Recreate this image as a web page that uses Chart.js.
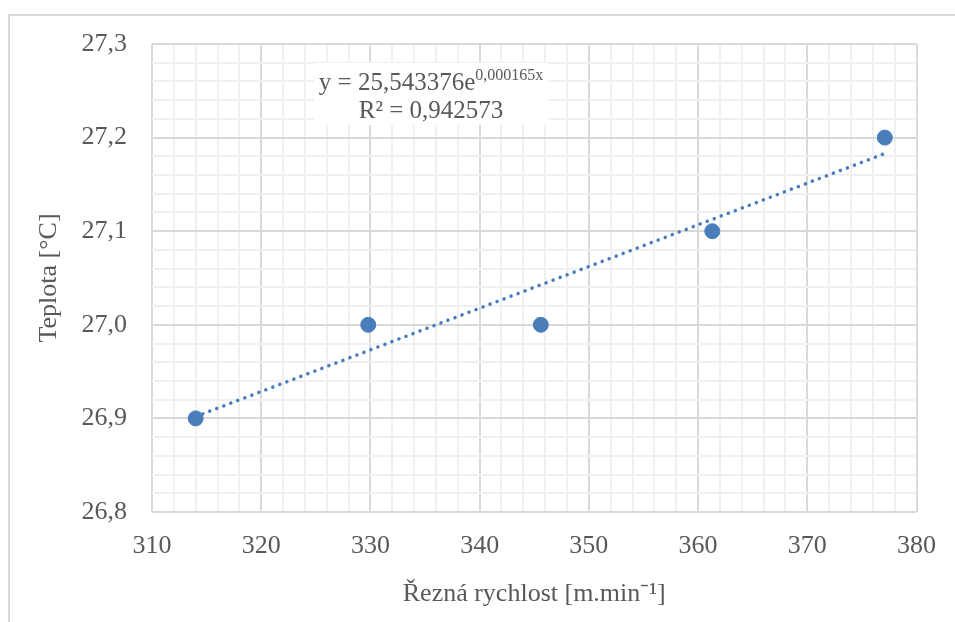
<!DOCTYPE html>
<html>
<head>
<meta charset="utf-8">
<script src="https://cdn.jsdelivr.net/npm/chart.js@4/dist/chart.umd.min.js"></script>
<style>
  html, body { margin: 0; padding: 0; background: #ffffff; }
  #wrap { width: 955px; height: 622px; position: relative; }
</style>
</head>
<body>
<div id="wrap"><canvas id="c" width="955" height="622"></canvas></div>
<script>
// ---- data ----
const speeds = [314.0, 329.8, 345.6, 361.3, 377.1];   // Řezná rychlost [m.min-1]
const temps  = [26.9, 27.0, 27.0, 27.1, 27.2];        // Teplota [°C]
const trendX = [314.0, 377.1];                         // trendline ends
const trendY = [26.902, 27.183];
const xTickMajors = [310, 320, 330, 340, 350, 360, 370, 380];
const yTickMajors = ['26,8', '26,9', '27,0', '27,1', '27,2', '27,3'];
const eqMain = 'y = 25,543376e';
const eqExp = '0,000165x';
const eqR2 = 'R² = 0,942573';
const xTitle = 'Řezná rychlost [m.min⁻¹]';
const yTitle = 'Teplota [°C]';

const TEXT = '#595959';
const BLUE = '#4a7ebb';
const FONT = 'Liberation Serif, Times New Roman, serif';

const frame = {
  id: 'frame',
  beforeDraw(chart) {
    const ctx = chart.ctx;
    ctx.save();
    ctx.fillStyle = '#ffffff';
    ctx.fillRect(0, 0, chart.width, chart.height);
    ctx.strokeStyle = '#d9d9d9';
    ctx.lineWidth = 2;
    ctx.beginPath();
    ctx.moveTo(9, chart.height);
    ctx.lineTo(9, 15);
    ctx.lineTo(chart.width, 15);
    ctx.stroke();
    ctx.restore();
  }
};

const eqLabel = {
  id: 'eqLabel',
  afterDatasetsDraw(chart) {
    const ctx = chart.ctx;
    const a = chart.chartArea;
    ctx.save();
    const bx = a.left + 162, by = a.top + 19, bw = 234, bh = 62;
    ctx.fillStyle = '#ffffff';
    ctx.fillRect(bx, by, bw, bh);
    const cx = bx + bw / 2;
    ctx.fillStyle = TEXT;
    ctx.textBaseline = 'alphabetic';
    ctx.textAlign = 'left';
    ctx.font = '25px ' + FONT;
    const w1 = ctx.measureText(eqMain).width;
    ctx.font = '16px ' + FONT;
    const w2 = ctx.measureText(eqExp).width;
    const start = cx - (w1 + w2) / 2;
    ctx.font = '25px ' + FONT;
    ctx.fillText(eqMain, start, by + 27);
    ctx.font = '16px ' + FONT;
    ctx.fillText(eqExp, start + w1, by + 17);
    ctx.font = '25px ' + FONT;
    ctx.textAlign = 'center';
    ctx.fillText(eqR2, cx, by + 55);
    ctx.restore();
  }
};

function isMajorX(v) { return Math.round(v) % 10 === 0; }
function isMajorY(v) { return Math.round(v * 100) % 10 === 0; }

new Chart(document.getElementById('c'), {
  type: 'scatter',
  data: {
    datasets: [
      {
        label: 'trend',
        type: 'line',
        data: trendX.map((x, i) => ({ x: x, y: trendY[i] })),
        borderColor: BLUE,
        borderWidth: 3.5,
        borderDash: [0.1, 7.4],
        borderCapStyle: 'round',
        pointRadius: 0,
        fill: false,
        order: 2
      },
      {
        label: 'data',
        data: speeds.map((x, i) => ({ x: x, y: temps[i] })),
        backgroundColor: BLUE,
        borderColor: BLUE,
        pointRadius: 7.5,
        pointHoverRadius: 7.5,
        order: 1
      }
    ]
  },
  options: {
    responsive: false,
    animation: false,
    events: [],
    layout: { padding: { left: 1, right: 34, top: 44, bottom: 0 } },
    plugins: { legend: { display: false }, tooltip: { enabled: false } },
    scales: {
      x: {
        type: 'linear',
        min: 310, max: 380,
        afterFit(s) { s.height = 110; },
        afterBuildTicks(s) {
          const t = [];
          for (let v = 310; v <= 380; v += 2) t.push({ value: v });
          s.ticks = t;
        },
        ticks: {
          autoSkip: false, maxRotation: 0,
          color: TEXT, font: { family: FONT, size: 26 }, padding: 19,
          callback(v) { return isMajorX(v) && xTickMajors.includes(Math.round(v)) ? String(Math.round(v)) : ''; }
        },
        grid: {
          drawTicks: false,
          color(c) { return isMajorX(c.tick.value) ? '#d9d9d9' : '#f0f0f0'; },
          lineWidth: 2
        },
        border: { display: false },
        title: {
          display: true, text: xTitle, color: TEXT,
          font: { family: FONT, size: 26 }, padding: { top: 0, bottom: 12 }
        }
      },
      y: {
        type: 'linear',
        min: 26.8, max: 27.3,
        afterFit(s) { s.width = 151; },
        afterBuildTicks(s) {
          const t = [];
          for (let i = 0; i <= 25; i++) t.push({ value: Math.round((26.8 + i * 0.02) * 100) / 100 });
          s.ticks = t;
        },
        ticks: {
          autoSkip: false,
          color: TEXT, font: { family: FONT, size: 26 }, padding: 25,
          callback(v) {
            if (!isMajorY(v)) return '';
            const idx = Math.round((v - 26.8) * 10);
            return yTickMajors[idx];
          }
        },
        grid: {
          drawTicks: false,
          color(c) { return isMajorY(c.tick.value) ? '#d9d9d9' : '#f0f0f0'; },
          lineWidth: 2
        },
        border: { display: false },
        title: {
          display: true, text: yTitle, color: TEXT,
          font: { family: FONT, size: 26 }, padding: { top: 33, bottom: 0 }
        }
      }
    }
  },
  plugins: [frame, eqLabel]
});
</script>
</body>
</html>
